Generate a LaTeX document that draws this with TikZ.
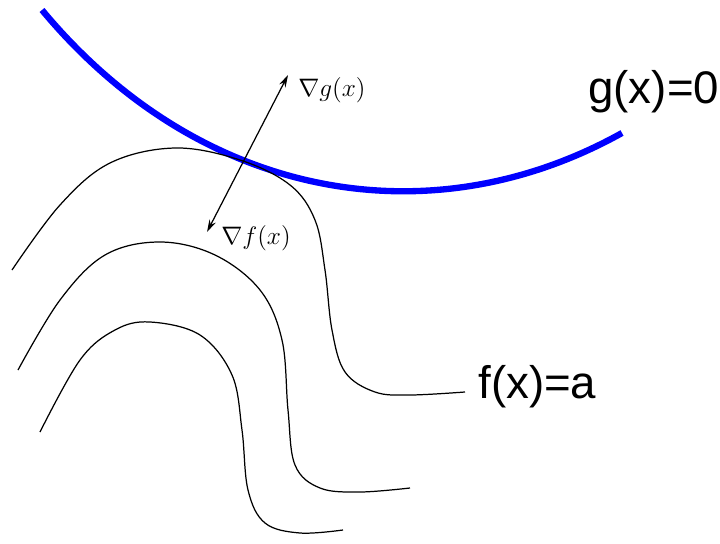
\documentclass[tikz,border=0pt]{standalone}
\usepackage{fontspec}
\setsansfont{Liberation Sans}
\usetikzlibrary{arrows.meta}
\begin{document}
\begin{tikzpicture}[x=0.02cm,y=-0.02cm,
  level/.style={line width=0.7pt, black},
  constraint/.style={line width=3.6pt, blue},
  grad/.style={line width=0.7pt, {Stealth[length=7pt,width=4pt]}-{Stealth[length=7pt,width=4pt]}},
  biglabel/.style={font=\sffamily\fontsize{26}{30}\selectfont, inner sep=0pt},
  mathlabel/.style={font=\fontsize{15}{18}\selectfont, inner sep=0pt}]
\useasboundingbox (0,0) rectangle (720,544);
% constraint curve
\coordinate (gs) at (42,10);
\coordinate (ge) at (622,133);
\draw[constraint] (gs) .. controls (200,200) and (430,240) .. (ge);
% level curves
\draw[level] plot[smooth, tension=0.6] coordinates {(12,270) (60,205) (110,163) (175,148) (240,160) (290,185) (315,220) (325,270) (332,330) (345,372) (375,392) (410,395) (465,392)};
\draw[level] plot[smooth, tension=0.6] coordinates {(18,370) (60,300) (105,255) (160,242) (215,255) (260,290) (282,340) (288,410) (295,465) (320,488) (360,492) (410,488)};
\draw[level] plot[smooth, tension=0.6] coordinates {(40,432) (80,360) (115,330) (150,322) (200,335) (232,375) (242,430) (248,490) (265,523) (300,533) (343,530)};
% gradients
\coordinate (atop) at (288,75);
\coordinate (abot) at (207,232);
\draw[grad] (abot) -- (atop);
\node[mathlabel, anchor=base west] (gl) at (298,97) {$\nabla g(x)$};
\node[mathlabel, anchor=base west] (fl) at (221,244) {$\nabla f(x)$};
\node[biglabel, anchor=base west] (gz) at (588,104) {g(x)=0};
\node[biglabel, anchor=base west] (fa) at (478,398) {f(x)=a};
\end{tikzpicture}
\end{document}
